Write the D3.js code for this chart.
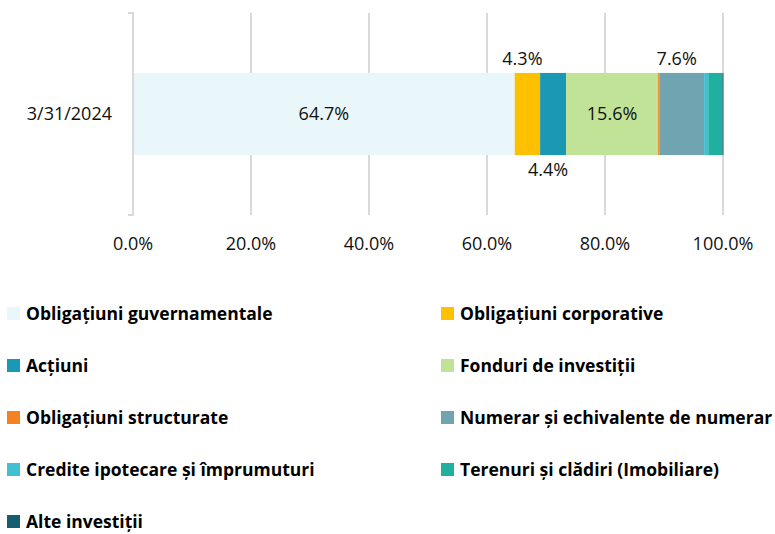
<!DOCTYPE html>
<html>
<head>
<meta charset="utf-8">
<script src="https://cdn.jsdelivr.net/npm/d3@7"></script>
<style>
  body { margin: 0; background: #fff; }
  svg text { font-family: "Open Sans", sans-serif; }
</style>
</head>
<body>
<svg id="chart" width="775" height="534"></svg>
<script>
var categories = ["3/31/2024"];
var seriesNames = [
  "Obligațiuni guvernamentale", "Obligațiuni corporative", "Acțiuni",
  "Fonduri de investiții", "Obligațiuni structurate", "Numerar și echivalente de numerar",
  "Credite ipotecare și împrumuturi", "Terenuri și clădiri (Imobiliare)", "Alte investiții"
];
var seriesValues = [64.7, 4.3, 4.4, 15.6, 0.2, 7.6, 0.7, 2.4, 0.1];
var seriesColors = ["#eaf7fa", "#ffc000", "#1b98b4", "#c0e398", "#f58220", "#6fa4b0", "#40c0d0", "#20b0a0", "#155e70"];
// where each data label sits: inside, above, below or none
var labelPos = ["in", "above", "below", "in", "none", "above", "none", "none", "none"];
var xTicks = [0, 20, 40, 60, 80, 100];

var svg = d3.select("#chart"),
    margin = {top: 13, left: 133},
    width = 590,
    height = 202;

var g = svg.append("g").attr("transform", "translate(" + margin.left + "," + margin.top + ")");

var x = d3.scaleLinear().domain([0, 100]).range([0, width]);
var y = d3.scaleBand().domain(categories).range([0, height]).paddingInner(0).paddingOuter(0.73);

// gridlines
g.selectAll(".grid")
  .data(xTicks.slice(1))
  .enter().append("line")
    .attr("x1", function(d) { return x(d); })
    .attr("x2", function(d) { return x(d); })
    .attr("y1", 0)
    .attr("y2", height)
    .attr("stroke", "#d9d9d9")
    .attr("stroke-width", 2);

// x tick labels
g.selectAll(".xlab")
  .data(xTicks)
  .enter().append("text")
    .attr("x", function(d) { return x(d); })
    .attr("y", height + 35)
    .attr("text-anchor", "middle")
    .style("font-size", "18px")
    .attr("fill", "#111")
    .text(function(d) { return d3.format(".1f")(d) + "%"; });

// stacked segments
var stacked = [];
var acc = 0;
seriesValues.forEach(function(v, i) {
  stacked.push({name: seriesNames[i], v: v, x0: acc, x1: acc + v, color: seriesColors[i], pos: labelPos[i]});
  acc += v;
});

var bandY = y(categories[0]), bandH = y.bandwidth();

g.selectAll(".seg")
  .data(stacked)
  .enter().append("rect")
    .attr("x", function(d) { return x(d.x0); })
    .attr("width", function(d) { return Math.max(x(d.x1) - x(d.x0), 1); })
    .attr("y", bandY)
    .attr("height", bandH)
    .attr("fill", function(d) { return d.color; });

g.selectAll(".lab")
  .data(stacked.filter(function(d) { return d.pos != "none"; }))
  .enter().append("text")
    .attr("x", function(d) { return x((d.x0 + d.x1) / 2) - (d.pos == "in" ? 0 : 5); })
    .attr("y", function(d) {
      if (d.pos == "in") return bandY + bandH / 2;
      if (d.pos == "above") return bandY - 14;
      return bandY + bandH + 15;
    })
    .attr("dy", "0.35em")
    .attr("text-anchor", "middle")
    .style("font-size", "18px")
    .attr("fill", "#111")
    .text(function(d) { return d.v.toFixed(1) + "%"; });

// y axis bracket
g.append("path")
  .attr("d", "M-5,0H0V" + height + "H-5")
  .attr("fill", "none")
  .attr("stroke", "#d9d9d9")
  .attr("stroke-width", 2);

g.selectAll(".ylab")
  .data(categories)
  .enter().append("text")
    .attr("x", -21)
    .attr("y", function(d) { return y(d) + bandH / 2; })
    .attr("dy", "0.35em")
    .attr("text-anchor", "end")
    .style("font-size", "18px")
    .attr("fill", "#111")
    .text(function(d) { return d; });

// legend
var legend = svg.append("g").attr("class", "legend");
var item = legend.selectAll(".item")
  .data(stacked)
  .enter().append("g")
    .attr("transform", function(d, i) {
      return "translate(" + (i % 2 ? 441 : 7) + "," + (314 + Math.floor(i / 2) * 52) + ")";
    });

item.append("rect")
  .attr("x", 0).attr("y", -7)
  .attr("width", 13).attr("height", 13)
  .attr("fill", function(d) { return d.color; });

item.append("text")
  .attr("x", 19)
  .attr("dy", "0.35em")
  .style("font-size", "17.5px")
  .style("font-weight", "bold")
  .attr("fill", "#000")
  .text(function(d) { return d.name; });
</script>
</body>
</html>
